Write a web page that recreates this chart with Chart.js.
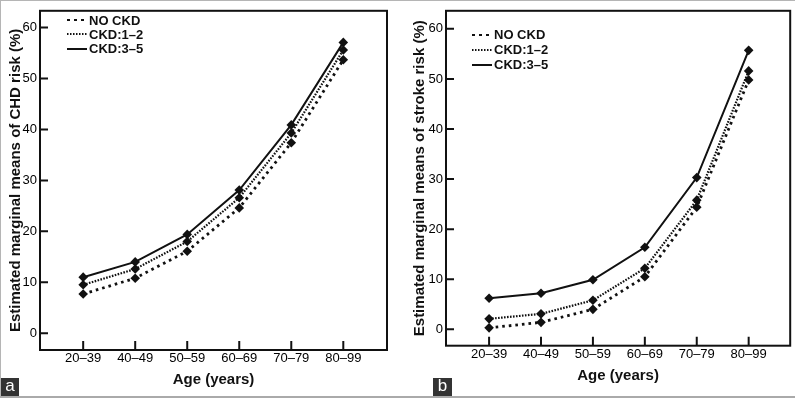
<!DOCTYPE html>
<html>
<head>
<meta charset="utf-8">
<script src="https://cdn.jsdelivr.net/npm/chart.js@4.4.1/dist/chart.umd.min.js"></script>
<style>
  body { margin: 0; width: 795px; height: 398px; position: relative; background: #fff; overflow: hidden;
         font-family: 'Liberation Sans', Arial, sans-serif; }
  .edge { position: absolute; background: #b5b5b5; }
  .panel { position: absolute; top: 0; height: 396px; }
  #panelA { left: 0; width: 392px; }
  #panelB { left: 396px; width: 399px; }
  .legend { position: absolute; font-weight: bold; font-size: 13px; color: #111; }
  .legend div { display: flex; align-items: center; white-space: nowrap; }
  .tag { position: absolute; top: 378px; height: 18px; background: #333; color: #fff;
         font-size: 17px; line-height: 16px; text-align: center; }
</style>
</head>
<body>
<div class="edge" style="left:0;top:0;width:795px;height:1px"></div>
<div class="edge" style="left:0;top:0;width:1px;height:398px"></div>
<div class="edge" style="left:0;top:396px;width:795px;height:2px;background:#aaa"></div>

<div class="panel" id="panelA"><canvas id="chartA"></canvas></div>
<div class="panel" id="panelB"><canvas id="chartB"></canvas></div>

<div class="legend" id="legendA" style="left:67px;top:13px"></div>
<div class="legend" id="legendB" style="left:472px;top:27px"></div>

<div class="tag" style="left:1px;width:18px">a</div>
<div class="tag" style="left:433px;width:19px">b</div>

<script>
// Data
const ageGroups = ['20–39', '40–49', '50–59', '60–69', '70–79', '80–99'];
const seriesNames = ['NO CKD', 'CKD:1–2', 'CKD:3–5'];
const yTicks = [0, 10, 20, 30, 40, 50, 60];

// Panel a - CHD risk
const chdNoCkd = [7.7, 10.8, 16.1, 24.6, 37.4, 53.7];
const chdCkd12 = [9.5, 12.6, 18.0, 26.6, 39.3, 55.6];
const chdCkd35 = [11.0, 14.0, 19.4, 28.1, 40.9, 57.1];

// Panel b - stroke risk
const strokeNoCkd = [0.3, 1.4, 4.0, 10.5, 24.4, 49.8];
const strokeCkd12 = [2.1, 3.1, 5.8, 12.2, 25.8, 51.6];
const strokeCkd35 = [6.2, 7.2, 9.9, 16.4, 30.3, 55.7];

const ink = '#111';
const fontFamily = "'Liberation Sans', Arial, sans-serif";
const lineStyles = [
    { dash: [2.6, 4], width: 2.8, legendDash: [3, 4] },
    { dash: [1.6, 1.4], width: 2.2, legendDash: [1.5, 1.5] },
    { dash: [], width: 2, legendDash: [] }
];

// box round the plot area and inward tick marks
const framePlugin = {
    id: 'frame',
    afterDraw(chart) {
        const { ctx, chartArea: a, scales: { x, y } } = chart;
        ctx.save();
        ctx.strokeStyle = ink;
        ctx.lineWidth = 2;
        ctx.strokeRect(a.left, a.top, a.right - a.left, a.bottom - a.top);
        ctx.beginPath();
        x.ticks.forEach(t => {
            const px = x.getPixelForValue(t.value);
            ctx.moveTo(px, a.bottom);
            ctx.lineTo(px, a.bottom - 9);
        });
        y.ticks.forEach(t => {
            const py = y.getPixelForValue(t.value);
            ctx.moveTo(a.left - 1, py);
            ctx.lineTo(a.left + 8, py);
        });
        ctx.stroke();
        ctx.restore();
    }
};

function makeChart(id, series, yTitle, lay) {
    const datasets = series.map((vals, i) => ({
        label: seriesNames[i],
        data: vals.map((v, j) => ({ x: j, y: v })),
        borderColor: ink,
        backgroundColor: ink,
        borderWidth: lineStyles[i].width,
        borderDash: lineStyles[i].dash,
        pointStyle: 'rectRot',
        pointRadius: 4.8,
        pointBorderWidth: 0,
        tension: 0
    }));

    return new Chart(document.getElementById(id), {
        type: 'line',
        data: { datasets: datasets },
        options: {
            responsive: true,
            maintainAspectRatio: false,
            animation: false,
            layout: { padding: { left: 0, top: lay.top, right: lay.right, bottom: 0 } },
            plugins: { legend: { display: false }, tooltip: { enabled: false } },
            scales: {
                x: {
                    type: 'linear',
                    min: lay.xMin,
                    max: lay.xMax,
                    afterBuildTicks: s => { s.ticks = ageGroups.map((g, i) => ({ value: i })); },
                    afterFit: s => { s.height = lay.xHeight; },
                    grid: { display: false, drawTicks: false },
                    border: { display: false },
                    ticks: {
                        autoSkip: false,
                        maxRotation: 0,
                        padding: 1,
                        color: '#000',
                        font: { family: fontFamily, size: 13 },
                        callback: v => ageGroups[v]
                    },
                    title: {
                        display: true,
                        text: 'Age (years)',
                        color: ink,
                        font: { family: fontFamily, size: 15, weight: 'bold' },
                        padding: { top: 0, bottom: lay.xTitlePad }
                    }
                },
                y: {
                    min: lay.yMin,
                    max: lay.yMax,
                    afterBuildTicks: s => { s.ticks = yTicks.map(v => ({ value: v })); },
                    afterFit: s => { s.width = lay.yWidth; },
                    grid: { display: false, drawTicks: false },
                    border: { display: false },
                    ticks: {
                        padding: 3,
                        color: '#000',
                        font: { family: fontFamily, size: 13 }
                    },
                    title: {
                        display: true,
                        text: yTitle,
                        color: ink,
                        font: { family: fontFamily, size: 15, weight: 'bold' },
                        padding: { top: lay.yTitlePad, bottom: 0 }
                    }
                }
            }
        },
        plugins: [framePlugin]
    });
}

function makeLegend(id, rowHeight) {
    const box = document.getElementById(id);
    seriesNames.forEach((name, i) => {
        const row = document.createElement('div');
        row.style.height = rowHeight + 'px';
        const d = lineStyles[i].legendDash;
        const dash = d.length ? d.join(' ') : 'none';
        row.innerHTML = '<svg width="20" height="4" style="margin-right:2px">' +
            '<line x1="0" y1="2" x2="20" y2="2" stroke="' + ink + '" stroke-width="2" stroke-dasharray="' + dash + '"/></svg>' +
            '<span>' + name + '</span>';
        box.appendChild(row);
    });
}

window.addEventListener('DOMContentLoaded', () => {
    makeChart('chartA', [chdNoCkd, chdCkd12, chdCkd35], 'Estimated marginal means of CHD risk (%)', {
        top: 3, right: 5, yWidth: 40, xHeight: 46,
        xMin: -0.83, xMax: 5.84, yMin: -3.3, yMax: 63.3,
        xTitlePad: 7, yTitlePad: 7
    });
    makeChart('chartB', [strokeNoCkd, strokeCkd12, strokeCkd35], 'Estimated marginal means of stroke risk (%)', {
        top: 3.5, right: 2.3, yWidth: 50, xHeight: 50.3,
        xMin: -0.83, xMax: 5.80, yMin: -3.26, yMax: 63.6,
        xTitlePad: 11, yTitlePad: 15
    });
    makeLegend('legendA', 14.3);
    makeLegend('legendB', 15);
});
</script>
</body>
</html>
